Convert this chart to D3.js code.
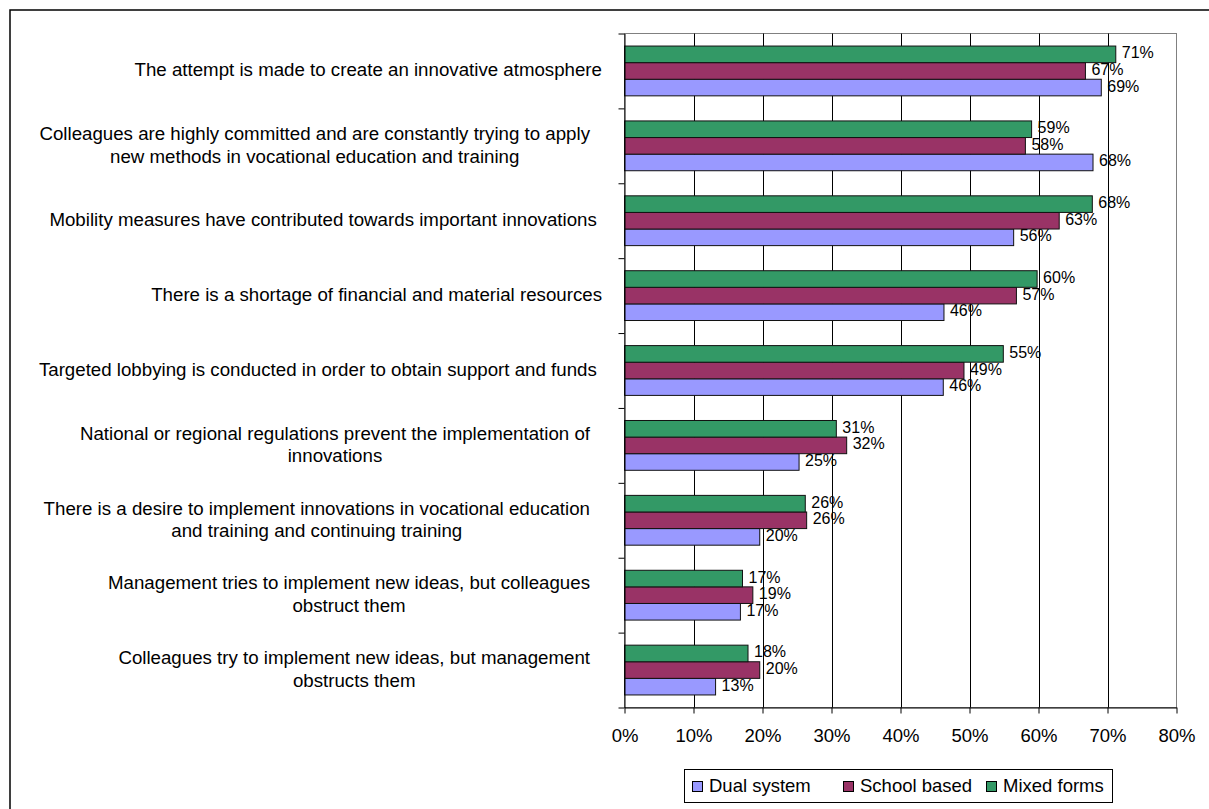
<!DOCTYPE html>
<html><head><meta charset="utf-8">
<script src="https://cdn.jsdelivr.net/npm/d3@7"></script>
<style>
body{margin:0;background:#fff}
svg{display:block}
text{font-family:"Liberation Sans",Arial,sans-serif;fill:#000}
</style>
</head><body>
<svg id="chart" width="1209" height="809"></svg>
<script>
// ---- data ----
const categories = [
  ["The attempt is made to create an innovative atmosphere"],
  ["Colleagues are highly committed and are constantly trying to apply", "new methods in vocational education and training"],
  ["Mobility measures have contributed towards important innovations "],
  ["There is a shortage of financial and material resources"],
  ["Targeted lobbying is conducted in order to obtain support and funds "],
  ["National or regional regulations prevent the implementation of", "innovations"],
  ["There is a desire to implement innovations in vocational education", "and training and continuing training"],
  ["Management tries to implement new ideas, but colleagues", "obstruct them"],
  ["Colleagues try to implement new ideas, but management", "obstructs them"]
];
const seriesNames = ["Dual system", "School based", "Mixed forms"];
const dualSystem  = [69.1, 67.9, 56.4, 46.3, 46.2, 25.3, 19.6, 16.8, 13.2];
const schoolBased = [66.8, 58.1, 63.0, 56.8, 49.2, 32.2, 26.4, 18.6, 19.6];
const mixedForms  = [71.2, 59.0, 67.8, 59.8, 54.9, 30.7, 26.2, 17.1, 17.9];
const xTicks = [0, 10, 20, 30, 40, 50, 60, 70, 80];
const seriesColors = ["#9999FF", "#993366", "#339966"];

// ---- layout ----
const svg = d3.select("#chart");
const L = 624.5, R = 1176.5, T = 33.5, B = 707.5;
const series = [dualSystem, schoolBased, mixedForms];
const FONT = "18.7px";

// outer frame
svg.append("rect").attr("x", 10).attr("y", 10).attr("width", 1400).attr("height", 1000)
  .attr("fill", "none").attr("stroke", "#000").attr("stroke-width", 1.5);

const x = d3.scaleLinear().domain([0, 80]).range([L, R]);
const y = d3.scaleBand().domain(d3.range(categories.length)).range([T, B])
  .paddingInner(0.335).paddingOuter(0.1675);
const ys = d3.scaleBand().domain([2, 1, 0]).range([0, y.bandwidth()]);
const yEdge = d3.scaleLinear().domain([0, categories.length]).range([T, B]);

// plot area border
svg.append("rect").attr("x", L).attr("y", T).attr("width", R - L).attr("height", B - T)
  .attr("fill", "#fff").attr("stroke", "#808080").attr("stroke-width", 1);

// gridlines
svg.append("g").selectAll("line").data(xTicks.filter(d => d > 0 && d < 80)).join("line")
  .attr("x1", d => Math.round(x(d)) + 0.5).attr("x2", d => Math.round(x(d)) + 0.5)
  .attr("y1", T).attr("y2", B).attr("stroke", "#000").attr("stroke-width", 1);

// bars
series.forEach((vals, s) => {
  const g = svg.append("g");
  g.selectAll("rect").data(vals).join("rect")
    .attr("x", x(0))
    .attr("y", (d, i) => y(i) + ys(s))
    .attr("width", d => x(d) - x(0))
    .attr("height", ys.bandwidth())
    .attr("fill", seriesColors[s])
    .attr("stroke", "#111").attr("stroke-width", 1);
  g.selectAll("text").data(vals).join("text")
    .attr("x", d => x(d) + 6)
    .attr("y", (d, i) => y(i) + ys(s) + ys.bandwidth() / 2 - 1.5)
    .attr("dominant-baseline", "central")
    .style("font-size", "16px")
    .text(d => Math.round(d) + "%");
});

// x axis
const xAxis = svg.append("g").attr("transform", `translate(0,${B})`)
  .call(d3.axisBottom(x).tickValues(xTicks).tickFormat(d => d + "%").tickSize(6).tickSizeOuter(0).tickPadding(15));
xAxis.select(".domain").attr("stroke", "#000");
xAxis.selectAll(".tick line").attr("stroke", "#000");
xAxis.selectAll("text").style("font-size", "18.5px").style("font-family", '"Liberation Sans",Arial,sans-serif');

// y axis (category boundary ticks)
const yAxis = svg.append("g").attr("transform", `translate(${L},0)`)
  .call(d3.axisLeft(yEdge).tickValues(d3.range(categories.length + 1)).tickFormat("").tickSize(6).tickSizeOuter(0));
yAxis.select(".domain").attr("stroke", "#000");
yAxis.selectAll(".tick line").attr("stroke", "#000");

// category labels
const labelRight = 602, lineH = 22.5;
categories.forEach((lines, i) => {
  const cy = yEdge(i + 0.5) - 1;
  const g = svg.append("g");
  const texts = lines.map((ln, j) => g.append("text")
    .style("font-size", FONT).style("white-space", "pre")
    .attr("dominant-baseline", "central")
    .attr("y", cy + (j - (lines.length - 1) / 2) * lineH)
    .text(ln));
  if (lines.length === 1) {
    texts[0].attr("text-anchor", "end").attr("x", labelRight);
  } else {
    const maxW = d3.max(texts, t => t.node().getComputedTextLength());
    texts.forEach(t => t.attr("text-anchor", "middle").attr("x", labelRight - 12 - maxW / 2));
  }
});

// legend
const lg = svg.append("g");
lg.append("rect").attr("x", 684.5).attr("y", 769.5).attr("width", 428).attr("height", 33)
  .attr("fill", "#fff").attr("stroke", "#000").attr("stroke-width", 1);
const legendX = [692, 843, 986];
seriesNames.forEach((name, s) => {
  lg.append("rect").attr("x", legendX[s] + 0.5).attr("y", 781.5).attr("width", 10).attr("height", 10)
    .attr("fill", seriesColors[s]).attr("stroke", "#000").attr("stroke-width", 1);
  lg.append("text").attr("x", legendX[s] + 17).attr("y", 792).style("font-size", "18.5px").text(name);
});
</script>
</body></html>
